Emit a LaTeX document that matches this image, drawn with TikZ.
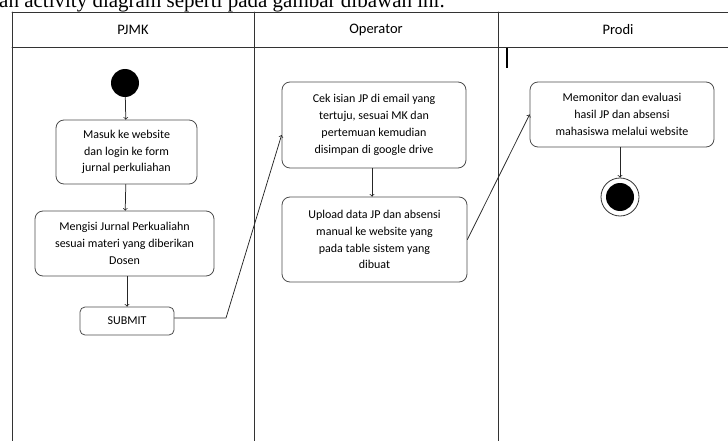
\documentclass[tikz,border=0pt]{standalone}
\usepackage{fontspec}
\setmainfont{Carlito}
\newfontfamily\serifdoc{Liberation Serif}
\usetikzlibrary{arrows,calc,positioning}

\begin{document}
\begin{tikzpicture}[x=1pt,y=-1pt,line join=round,line cap=round,
	act/.style={draw=black!70,line width=0.8pt,rounded corners=8pt,align=center,inner sep=0pt,font=\fontsize{12}{16.8}\selectfont},
	lane/.style={draw=black!80,line width=0.9pt},
	flow/.style={->,>=to,draw=black!85,line width=0.75pt},
	head/.style={font=\fontsize{14.5}{16}\selectfont}]
		\useasboundingbox (0,0) rectangle (728,441);
		% cut line of the page text
		\node[anchor=base west,inner sep=0pt,font=\serifdoc\fontsize{21}{24}\selectfont] (caption) at (-1,7.5) {an activity diagram seperti pada gambar dibawah ini.};
		% lanes
		\draw[lane] (12,12) -- (740,12) (12,47) -- (740,47);
		\foreach \x in {12,254,498}{\draw[lane] (\x,12) -- (\x,445);}
		\draw[line width=1.6pt,line cap=butt] (507,48) -- (507,68);
		\foreach \n/\x/\t in {pjmk/133/PJMK, oper/376/Operator, prodi/618/Prodi}{\node[head] (\n) at (\x,30) {\t};}
		% activities
		\node[circle,fill=black,minimum size=28pt,inner sep=0pt] (start) at (125,83) {};
		\node[act,minimum width=141pt,minimum height=64pt] (masuk) at (126.5,152) {Masuk ke website\\dan login ke form\\jurnal perkuliahan};
		\node[act,minimum width=179pt,minimum height=65pt] (isi) at (124.5,243.5) {Mengisi Jurnal Perkualiahn\\sesuai materi yang diberikan\\Dosen};
		\node[act,rounded corners=5pt,minimum width=94pt,minimum height=28pt] (submit) at (127,321) {SUBMIT};
		\node[act,minimum width=184pt,minimum height=86pt] (cek) at (374,125) {Cek isian JP di email yang\\tertuju, sesuai MK dan\\pertemuan kemudian\\disimpan di google drive};
		\node[act,minimum width=185pt,minimum height=85pt] (upload) at (374.5,239.5) {Upload data JP dan absensi\\manual ke website yang\\pada table sistem yang\\dibuat};
		\node[act,minimum width=184pt,minimum height=65pt] (monitor) at (622,114.5) {Memonitor dan evaluasi\\hasil JP dan absensi\\mahasiswa melalui website};
		\node[circle,draw=black!80,line width=0.8pt,minimum size=38pt,inner sep=0pt] (stop) at (620,197) {};
		\node[circle,fill=black,minimum size=28pt,inner sep=0pt] (stopin) at (stop) {};
		% flows
		\coordinate (bend) at (226,318);
		\draw[flow] (start) -- (masuk);
		\draw[flow] (masuk) -- (isi);
		\draw[flow] (isi.south -| submit) -- (submit);
		\draw[flow] (submit.east |- bend) -- (bend) -- ($(cek.west)+(0,10)$);
		\draw[flow] (cek.south -| 372,0) -- (upload.north -| 372,0);
		\draw[flow] (upload.east) -- (monitor.west);
		\draw[flow] (monitor.south -| stop) -- (stop.north);
\end{tikzpicture}
\end{document}
